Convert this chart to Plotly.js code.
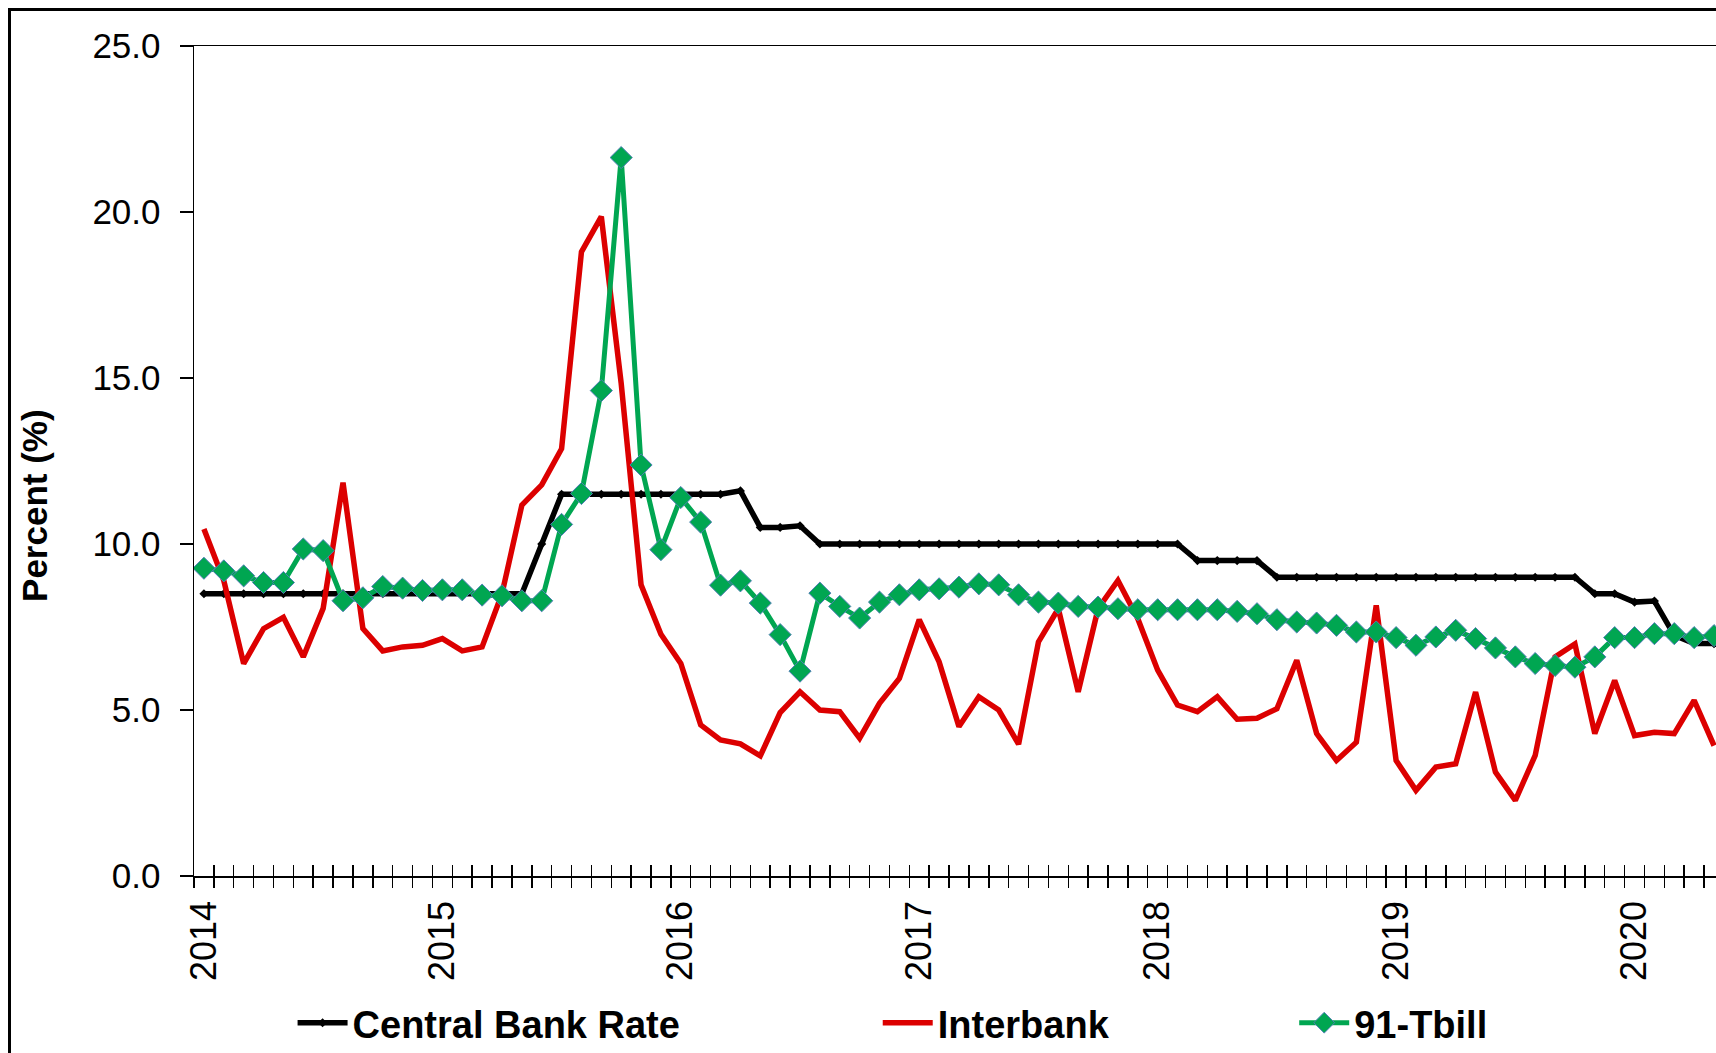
<!DOCTYPE html>
<html>
<head>
<meta charset="utf-8">
<script src="https://cdn.plot.ly/plotly-3.0.1.min.js"></script>
<style>
  html, body { margin:0; padding:0; background:#fff; overflow:hidden; width:1716px; height:1053px; }
  #frame { position:absolute; left:8px; top:8px; width:1800px; height:1200px; border:3px solid #000; z-index:0; }
  #chart { position:absolute; left:0; top:0; width:1716px; height:1053px; z-index:1; }
</style>
</head>
<body>
<div id="frame"></div>
<div id="chart"></div>
<script>
// ---- data (monthly, Jan 2014 onward) ----
const yearLabels = ['2014','2015','2016','2017','2018','2019','2020'];
const monthNames = ['Jan','Feb','Mar','Apr','May','Jun','Jul','Aug','Sep','Oct','Nov','Dec'];

const centralBankRate = [
  8.5,8.5,8.5,8.5,8.5,8.5,8.5,8.5,8.5,8.5,8.5,8.5,            // 2014
  8.5,8.5,8.5,8.5,8.5,10.0,11.5,11.5,11.5,11.5,11.5,11.5,    // 2015
  11.5,11.5,11.5,11.6,10.5,10.5,10.55,10.0,10.0,10.0,10.0,10.0, // 2016
  10.0,10.0,10.0,10.0,10.0,10.0,10.0,10.0,10.0,10.0,10.0,10.0, // 2017
  10.0,10.0,9.5,9.5,9.5,9.5,9.0,9.0,9.0,9.0,9.0,9.0,         // 2018
  9.0,9.0,9.0,9.0,9.0,9.0,9.0,9.0,9.0,9.0,8.5,8.5,           // 2019
  8.25,8.28,7.25,7.0,7.0                                      // 2020
];

const interbank = [
  10.45,8.9,6.4,7.45,7.79,6.6,8.06,11.85,7.45,6.78,6.9,6.95,
  7.15,6.78,6.9,8.5,11.17,11.78,12.87,18.8,19.86,14.84,8.77,7.28,
  6.4,4.55,4.1,3.98,3.62,4.92,5.55,5.0,4.95,4.15,5.2,5.95,
  7.72,6.45,4.5,5.4,5.0,3.97,7.05,8.05,5.55,8.05,8.9,7.75,
  6.2,5.15,4.95,5.4,4.72,4.75,5.04,6.5,4.29,3.48,4.03,8.15,
  3.48,2.58,3.28,3.38,5.54,3.13,2.28,3.63,6.6,6.99,4.29,5.89,
  4.23,4.33,4.29,5.29,3.93
];

const tbill91 = [
  9.27,9.19,9.04,8.84,8.84,9.85,9.80,8.29,8.38,8.72,8.67,8.60,
  8.62,8.62,8.46,8.44,8.29,8.29,10.59,11.52,14.62,21.64,12.38,9.83,
  11.40,10.66,8.76,8.89,8.22,7.27,6.17,8.52,8.12,7.77,8.25,8.47,
  8.62,8.65,8.70,8.80,8.77,8.47,8.25,8.22,8.12,8.10,8.05,8.02,
  8.02,8.02,8.02,8.02,7.97,7.90,7.72,7.65,7.62,7.55,7.35,7.35,
  7.18,6.95,7.20,7.40,7.15,6.87,6.60,6.40,6.34,6.29,6.60,7.18,
  7.18,7.30,7.30,7.18,7.24
];

const yTicks = [0,5,10,15,20,25];

// ---- derived category positions ----
const nMonths = tbill91.length;
const months = [];
for (let i = 0; i < nMonths; i++) {
  months.push(monthNames[i % 12] + ' ' + yearLabels[Math.floor(i / 12)]);
}
const xIdx = months.map((_, i) => i);
const yearTickVals = months.map((m, i) => m.startsWith('Jan') ? i : null).filter(v => v !== null);
const boundaryVals = [];
for (let k = 0; k <= nMonths + 1; k++) boundaryVals.push(k - 0.5);

const xRange = [-0.5, 76.1];
const FONT = 'Liberation Sans, Arial, Helvetica, sans-serif';

const traces = [
  // empty carriers so the tick-only overlay axes get drawn (no data, no marks)
  {x: [], y: [], xaxis: 'x2', yaxis: 'y', type: 'scatter', mode: 'lines', showlegend: false, hoverinfo: 'skip'},
  {x: [], y: [], xaxis: 'x3', yaxis: 'y', type: 'scatter', mode: 'lines', showlegend: false, hoverinfo: 'skip'},
  {
    x: xIdx, y: centralBankRate, name: 'Central Bank Rate', type: 'scatter', mode: 'lines+markers',
    line: {color: '#000000', width: 5.5},
    marker: {symbol: 'diamond', size: 7, color: '#000000'},
    legend: 'legend'
  },
  {
    x: xIdx, y: interbank, name: 'Interbank', type: 'scatter', mode: 'lines',
    line: {color: '#dc0000', width: 5.5},
    legend: 'legend2'
  },
  {
    x: xIdx, y: tbill91, name: '91-Tbill', type: 'scatter', mode: 'lines+markers',
    line: {color: '#00a651', width: 5},
    marker: {symbol: 'diamond', size: 17, color: '#00a651', line: {color: '#4f7fb5', width: 1}},
    legend: 'legend3'
  }
];

const legendBase = {
  xref: 'container', yref: 'container', y: 0.0285, yanchor: 'middle', xanchor: 'left',
  orientation: 'h', bgcolor: 'rgba(0,0,0,0)', borderwidth: 0, itemwidth: 50,
  font: {family: FONT, size: 38, color: '#000', weight: 'bold'}
};

const layout = {
  width: 1716, height: 1053,
  margin: {l: 194, r: 0, t: 46, b: 177, pad: 0},
  paper_bgcolor: 'rgba(0,0,0,0)', plot_bgcolor: 'rgba(0,0,0,0)',
  font: {family: FONT, color: '#000'},
  showlegend: true,
  xaxis: {
    type: 'linear', range: xRange, showgrid: false, zeroline: false,
    tickmode: 'array', tickvals: yearTickVals, ticktext: yearLabels,
    ticks: '', tickangle: -90, ticklabelstandoff: 9,
    tickfont: {family: FONT, size: 36, color: '#000'},
    showline: true, linecolor: '#000', linewidth: 1.5, mirror: true
  },
  xaxis2: {
    type: 'linear', range: xRange, overlaying: 'x', anchor: 'y', side: 'bottom',
    showgrid: false, zeroline: false, showline: false, showticklabels: false,
    tickmode: 'array', tickvals: boundaryVals, ticks: 'outside', ticklen: 11, tickwidth: 1.5, tickcolor: '#000'
  },
  xaxis3: {
    type: 'linear', range: xRange, overlaying: 'x', anchor: 'y', side: 'bottom',
    showgrid: false, zeroline: false, showline: false, showticklabels: false,
    tickmode: 'array', tickvals: boundaryVals, ticks: 'inside', ticklen: 11, tickwidth: 1.5, tickcolor: '#000'
  },
  yaxis: {
    range: [0, 25], showgrid: false, zeroline: false,
    tickmode: 'array', tickvals: yTicks, tickformat: '.1f',
    ticks: 'outside', ticklen: 13, tickwidth: 1.5, tickcolor: '#000', ticklabelstandoff: 12,
    tickfont: {family: FONT, size: 35, color: '#000'},
    showline: true, linecolor: '#000', linewidth: 1.5
  },
  legend: Object.assign({}, legendBase, {x: 0.1705}),
  legend2: Object.assign({}, legendBase, {x: 0.5115}),
  legend3: Object.assign({}, legendBase, {x: 0.7542}),
  annotations: [{
    text: 'Percent (%)', textangle: -90, showarrow: false,
    xref: 'paper', yref: 'paper', x: -0.1045, y: 0.447, xanchor: 'center', yanchor: 'middle',
    font: {family: FONT, size: 35, color: '#000', weight: 'bold'}
  }]
};

Plotly.newPlot('chart', traces, layout, {staticPlot: true, displayModeBar: false});
</script>
</body>
</html>
